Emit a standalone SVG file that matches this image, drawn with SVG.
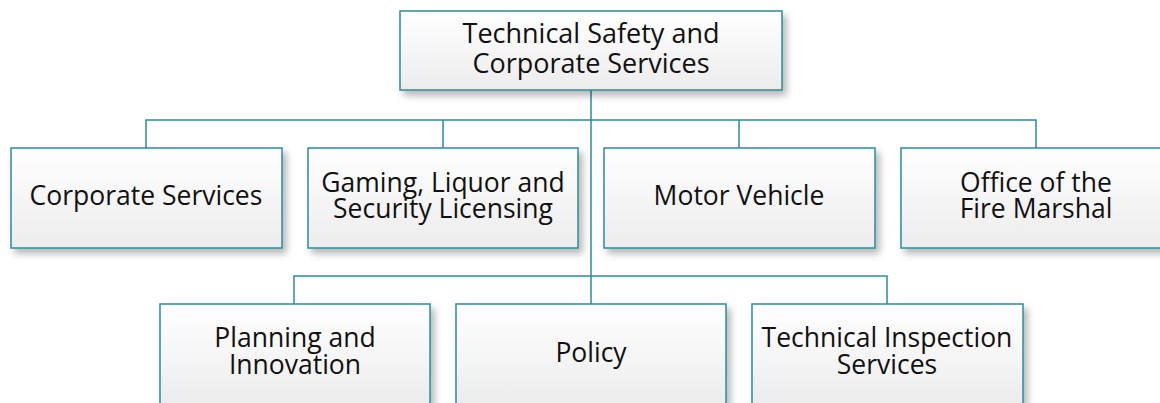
<svg xmlns="http://www.w3.org/2000/svg" width="1160" height="403" viewBox="0 0 1160 403">
<defs>
<linearGradient id="g" x1="0" y1="0" x2="0" y2="1">
<stop offset="0" stop-color="#ffffff"/>
<stop offset="1" stop-color="#ececec"/>
</linearGradient>
<filter id="sh" x="-10%" y="-10%" width="130%" height="140%">
<feDropShadow dx="4" dy="5" stdDeviation="3.5" flood-color="#000" flood-opacity="0.28"/>
</filter>
</defs>
<style>
.box{fill:url(#g);stroke:#2a8c9a;stroke-width:1.5;filter:url(#sh)}
.t{font-family:"Open Sans","Noto Sans","DejaVu Sans",sans-serif;font-size:26.5px;fill:#111;text-anchor:middle}
.tt{font-size:27px}
.c{fill:none;stroke:#2a8c9a;stroke-width:1.5}
</style>
<g id="connectors">
<path class="c" d="M591 90 V304"/>
<path class="c" d="M146 148 V120 H1036 V148"/>
<path class="c" d="M443 120 V148 M739 120 V148"/>
<path class="c" d="M294 304 V276 H887 V304"/>
</g>
<g id="n-top">
<rect class="box" x="400" y="11" width="382" height="79"/>
<text class="t tt" x="591" y="43">Technical Safety and</text>
<text class="t tt" x="591" y="73">Corporate Services</text>
</g>
<g id="n-corporate">
<rect class="box" x="11" y="148" width="271" height="100"/>
<text class="t" x="146" y="205">Corporate Services</text>
</g>
<g id="n-gaming">
<rect class="box" x="308" y="148" width="270" height="100"/>
<text class="t" x="443" y="192">Gaming, Liquor and</text>
<text class="t" x="443" y="217.5">Security Licensing</text>
</g>
<g id="n-motor">
<rect class="box" x="604" y="148" width="271" height="100"/>
<text class="t" x="739" y="205">Motor Vehicle</text>
</g>
<g id="n-fire">
<rect class="box" x="901" y="148" width="271" height="100"/>
<text class="t" x="1036" y="192">Office of the</text>
<text class="t" x="1036" y="217.5">Fire Marshal</text>
</g>
<g id="n-planning">
<rect class="box" x="160" y="304" width="270" height="100"/>
<text class="t" x="295" y="347">Planning and</text>
<text class="t" x="295" y="374">Innovation</text>
</g>
<g id="n-policy">
<rect class="box" x="456" y="304" width="270" height="100"/>
<text class="t" x="591" y="362">Policy</text>
</g>
<g id="n-tis">
<rect class="box" x="752" y="304" width="271" height="100"/>
<text class="t" x="887" y="347">Technical Inspection</text>
<text class="t" x="887" y="374">Services</text>
</g>
</svg>
